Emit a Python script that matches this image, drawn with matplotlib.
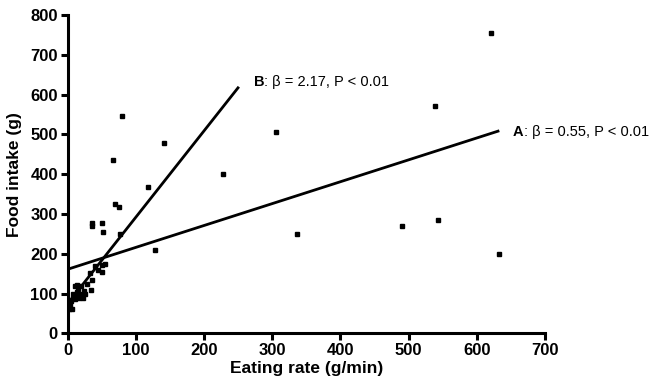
import matplotlib
matplotlib.use("Agg")
import matplotlib.pyplot as plt

plt.rcParams["font.family"] = ["Liberation Sans", "DejaVu Sans"]

# eating rate (g/min) vs food intake (g)
rate = [621, 538, 306, 80, 141, 67, 228, 118, 70, 75, 36, 35, 51, 52, 76,
        128, 336, 490, 543, 633,
        50, 50, 33, 36, 34, 24, 13, 10, 15, 18, 20, 12, 8, 22, 5, 3, 6, 2,
        10, 17, 25, 40, 55, 45, 28, 20, 14, 8]
intake = [755, 571, 506, 546, 478, 435, 400, 367, 325, 318, 278, 270, 276,
          255, 250, 209, 250, 270, 285, 199,
          171, 153, 152, 134, 109, 106, 121, 120, 112, 100, 95, 95, 88, 90,
          80, 72, 60, 62, 85, 88, 98, 170, 175, 160, 125, 120, 105, 100]

# regression lines: intercept, slope, x-range
line_a = (161, 0.55, 0, 633)
line_b = (75, 2.17, 0, 251)

fig = plt.figure(figsize=(6.56, 3.86), dpi=100)
ax = fig.add_axes([0.1032, 0.1365, 0.7276, 0.8246])

ax.plot(rate, intake, "s", color="black", markersize=2.6, linestyle="none")

for b0, b1, x0, x1 in (line_a, line_b):
    ax.plot([x0, x1], [b0 + b1 * x0, b0 + b1 * x1], color="black", lw=2.0,
            solid_capstyle="butt")

ax.set_xlim(0, 700)
ax.set_ylim(0, 800)
ax.set_xticks(range(0, 701, 100))
ax.set_yticks(range(0, 801, 100))

for side in ("top", "right"):
    ax.spines[side].set_visible(False)
for side in ("left", "bottom"):
    ax.spines[side].set_linewidth(2.2)
ax.tick_params(width=2.2, length=5, labelsize=12, pad=2)
for lab in ax.get_xticklabels() + ax.get_yticklabels():
    lab.set_fontweight("bold")

ax.set_xlabel("Eating rate (g/min)", fontsize=12.5, fontweight="bold",
              labelpad=2)
ax.set_ylabel("Food intake (g)", fontsize=12.5, fontweight="bold",
              labelpad=6)

# annotations: bold letter followed by the stats
for letter, rest, x, y in (("A", ": β = 0.55, P < 0.01", 653, 506),
                           ("B", ": β = 2.17, P < 0.01", 273, 632)):
    t = ax.text(x, y, letter, fontsize=10.5, fontweight="bold",
                ha="left", va="center", clip_on=False)
    ax.annotate(rest, xy=(1, 0), xycoords=t, fontsize=10.5,
                ha="left", va="bottom", annotation_clip=False)

fig.savefig("out.png", dpi=100)
